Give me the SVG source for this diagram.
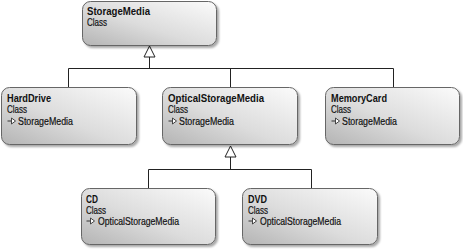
<svg xmlns="http://www.w3.org/2000/svg" width="463" height="249" viewBox="0 0 463 249">
  <defs>
    <linearGradient id="boxFill" x1="0" y1="1" x2="1" y2="0">
      <stop offset="0" stop-color="#b4b4b4"/>
      <stop offset="0.45" stop-color="#dcdcdc"/>
      <stop offset="1" stop-color="#fbfbfb"/>
    </linearGradient>
    <filter id="shadow" x="-10%" y="-10%" width="125%" height="130%">
      <feGaussianBlur in="SourceAlpha" stdDeviation="1.2"/>
      <feOffset dx="2" dy="2" result="b"/>
      <feComponentTransfer><feFuncA type="linear" slope="0.35"/></feComponentTransfer>
      <feMerge><feMergeNode/><feMergeNode in="SourceGraphic"/></feMerge>
    </filter>
    <g id="inheritIcon">
      <line x1="0" y1="0" x2="4" y2="0" stroke="#333" stroke-width="1"/>
      <polygon points="4,-3 8,0 4,3" fill="#fff" stroke="#333" stroke-width="0.9"/>
    </g>
  </defs>
  <style>
    .box { fill: url(#boxFill); stroke: #666; stroke-width: 1; filter: url(#shadow); }
    .name { font-family: "Liberation Sans", Arial, sans-serif; font-weight: bold; font-size: 11.5px; fill: #111; }
    .sub { font-family: "Liberation Sans", Arial, sans-serif; font-size: 10.8px; fill: #111; stroke: #111; stroke-width: 0.2; }
    .conn { fill: none; stroke: #222; stroke-width: 1; }
    .head { fill: #fff; stroke: #222; stroke-width: 1; }
  </style>

  <g id="connectors">
    <path class="conn" d="M149.5,57 V68.5 M68.5,68.5 H393.5 M68.5,68.5 V87 M230.5,68.5 V87 M393.5,68.5 V87"/>
    <polygon class="head" points="149.5,46 155,57 144,57"/>
    <path class="conn" d="M230.5,157 V169.5 M148.5,169.5 H311.5 M148.5,169.5 V188 M311.5,169.5 V188"/>
    <polygon class="head" points="230.5,146 236,157 225,157"/>
  </g>

  <g id="StorageMedia">
    <rect class="box" x="82.5" y="1.5" width="134" height="44" rx="8"/>
    <text class="name" x="87" y="15" textLength="63" lengthAdjust="spacingAndGlyphs">StorageMedia</text>
    <text class="sub" x="87" y="26" textLength="20" lengthAdjust="spacingAndGlyphs">Class</text>
  </g>

  <g id="HardDrive">
    <rect class="box" x="1.5" y="87.5" width="135" height="57" rx="8"/>
    <text class="name" x="7" y="102" textLength="44" lengthAdjust="spacingAndGlyphs">HardDrive</text>
    <text class="sub" x="7" y="113" textLength="20" lengthAdjust="spacingAndGlyphs">Class</text>
    <use href="#inheritIcon" x="7.5" y="121"/>
    <text class="sub" x="18" y="125" textLength="55" lengthAdjust="spacingAndGlyphs">StorageMedia</text>
  </g>

  <g id="OpticalStorageMedia">
    <rect class="box" x="162.5" y="87.5" width="135" height="57" rx="8"/>
    <text class="name" x="168" y="102" textLength="96" lengthAdjust="spacingAndGlyphs">OpticalStorageMedia</text>
    <text class="sub" x="168" y="113" textLength="20" lengthAdjust="spacingAndGlyphs">Class</text>
    <use href="#inheritIcon" x="168.5" y="121"/>
    <text class="sub" x="179" y="125" textLength="55" lengthAdjust="spacingAndGlyphs">StorageMedia</text>
  </g>

  <g id="MemoryCard">
    <rect class="box" x="325.5" y="87.5" width="134" height="57" rx="8"/>
    <text class="name" x="331" y="102" textLength="56" lengthAdjust="spacingAndGlyphs">MemoryCard</text>
    <text class="sub" x="331" y="113" textLength="20" lengthAdjust="spacingAndGlyphs">Class</text>
    <use href="#inheritIcon" x="331.5" y="121"/>
    <text class="sub" x="342" y="125" textLength="55" lengthAdjust="spacingAndGlyphs">StorageMedia</text>
  </g>

  <g id="CD">
    <rect class="box" x="81.5" y="188.5" width="134" height="56" rx="8"/>
    <text class="name" x="86" y="203" textLength="12" lengthAdjust="spacingAndGlyphs">CD</text>
    <text class="sub" x="86" y="214" textLength="20" lengthAdjust="spacingAndGlyphs">Class</text>
    <use href="#inheritIcon" x="86.5" y="221"/>
    <text class="sub" x="98" y="225" textLength="81" lengthAdjust="spacingAndGlyphs">OpticalStorageMedia</text>
  </g>

  <g id="DVD">
    <rect class="box" x="242.5" y="188.5" width="135" height="56" rx="8"/>
    <text class="name" x="248" y="203" textLength="19" lengthAdjust="spacingAndGlyphs">DVD</text>
    <text class="sub" x="248" y="214" textLength="20" lengthAdjust="spacingAndGlyphs">Class</text>
    <use href="#inheritIcon" x="248.5" y="221"/>
    <text class="sub" x="260" y="225" textLength="81" lengthAdjust="spacingAndGlyphs">OpticalStorageMedia</text>
  </g>
</svg>
